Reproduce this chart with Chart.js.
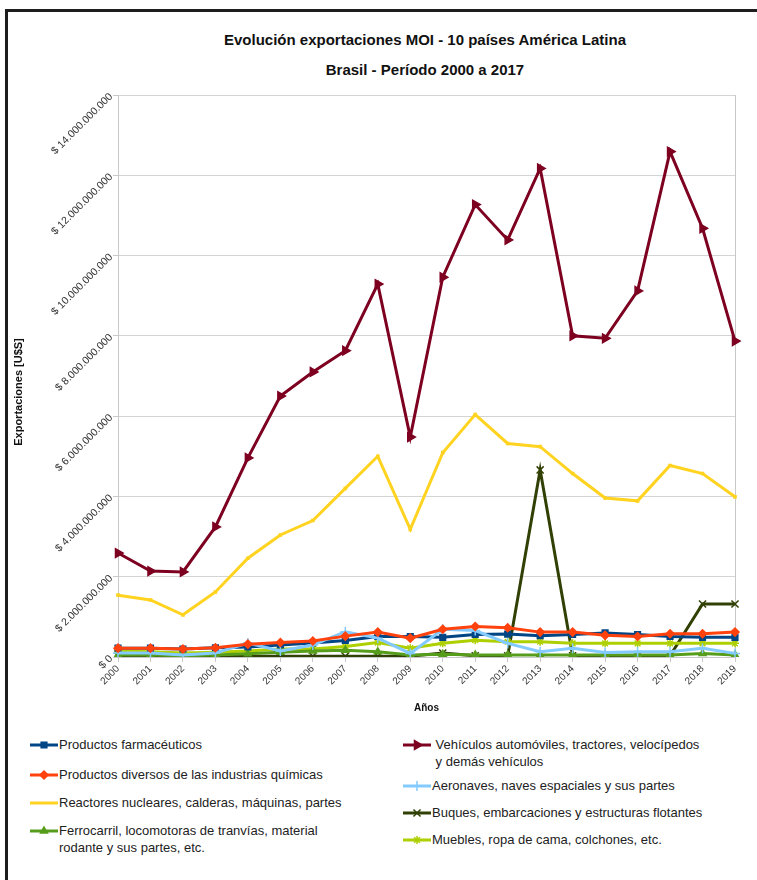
<!DOCTYPE html>
<html>
<head>
<meta charset="utf-8">
<script src="https://cdn.jsdelivr.net/npm/chart.js@4/dist/chart.umd.min.js"></script>
<style>
  body { margin: 0; background: #fff; font-family: "Liberation Sans", Arial, sans-serif; }
  #wrap { position: relative; width: 757px; height: 880px; overflow: hidden; }
  #frame { position: absolute; left: 5px; top: 9px; width: 800px; height: 900px;
           border-top: 3px solid #1e1e1e; border-left: 3px solid #1e1e1e; }
  .title { position: absolute; left: 125px; width: 600px; text-align: center;
           font-weight: bold; font-size: 15px; color: #111; }
  #ytitle { position: absolute; left: 18px; top: 392px; width: 200px; margin-left: -100px;
            text-align: center; font-weight: bold; font-size: 11px; color: #111; line-height: 12px;
            transform: translateY(-6px) rotate(-90deg); }
  #chart { position: absolute; left: 0; top: 0; }
  .leg { position: absolute; font-size: 13px; color: #222; line-height: 17px; }
  .leg canvas { position: absolute; left: 0; top: 2px; }
  .leg span { display: block; }
</style>
</head>
<body>
<div id="wrap">
  <div id="frame"></div>
  <div class="title" style="top:31px">Evolución exportaciones MOI - 10 países América Latina</div>
  <div class="title" style="top:61px">Brasil - Período 2000 a 2017</div>
  <canvas id="chart" width="757" height="720"></canvas>
  <div id="ytitle">Exportaciones [U$S]</div>
  <div id="legend"></div>
</div>
<script>
// Exports in millions of US$
const years = ['2000', '2001', '2002', '2003', '2004', '2005', '2006', '2007', '2008', '2009',
               '2010', '2011', '2012', '2013', '2014', '2015', '2016', '2017', '2018', '2019'];

const farmaceuticos = [220, 220, 200, 230, 250, 300, 350, 410, 510, 510, 490, 560, 570, 530, 560, 600, 560, 510, 490, 490];
const quimicos      = [220, 220, 200, 230, 320, 360, 400, 520, 620, 470, 690, 760, 730, 620, 620, 540, 510, 580, 580, 620];
const reactores     = [1540, 1420, 1050, 1620, 2460, 3040, 3400, 4200, 5000, 3180, 5090, 6040, 5320, 5240, 4570, 3960, 3890, 4770, 4570, 3990];
const ferrocarril   = [50, 50, 30, 50, 80, 120, 150, 170, 130, 50, 70, 50, 50, 50, 50, 50, 50, 50, 90, 50];
const vehiculos     = [2590, 2140, 2120, 3240, 4960, 6500, 7100, 7630, 9290, 5480, 9460, 11270, 10390, 12170, 8000, 7940, 9120, 12590, 10680, 7870];
const aeronaves     = [100, 100, 50, 100, 350, 150, 300, 630, 470, 90, 690, 660, 340, 130, 220, 110, 130, 130, 220, 90];
const buques        = [20, 20, 20, 20, 20, 20, 20, 20, 20, 20, 100, 30, 30, 4660, 30, 30, 30, 30, 1320, 1320];
const muebles       = [150, 130, 100, 120, 150, 200, 200, 260, 360, 220, 340, 420, 380, 380, 340, 340, 340, 340, 340, 340];

const yTicks = [0, 2000, 4000, 6000, 8000, 10000, 12000, 14000];

const series = [
  { label: ['Productos farmacéuticos'], data: farmaceuticos, color: '#004586', style: 'rect', r: 4, col: 0, row: 745 },
  { label: ['Productos diversos de las industrias químicas'], data: quimicos, color: '#ff420e', style: 'rectRot', r: 4, col: 0, row: 775 },
  { label: ['Reactores nucleares, calderas, máquinas, partes'], data: reactores, color: '#ffd320', style: 'rect', r: 1.5, col: 0, row: 803 },
  { label: ['Ferrocarril, locomotoras de tranvías, material', 'rodante y sus partes, etc.'], data: ferrocarril, color: '#579d1c', style: 'triangle', r: 4, col: 0, row: 831 },
  { label: [' Vehículos automóviles, tractores, velocípedos', ' y demás vehículos'], data: vehiculos, color: '#7e0021', style: 'triangle', rot: 90, r: 5, col: 1, row: 745 },
  { label: ['Aeronaves, naves espaciales y sus partes'], data: aeronaves, color: '#83caff', style: 'cross', r: 5, col: 1, row: 786 },
  { label: ['Buques, embarcaciones y estructuras flotantes'], data: buques, color: '#314004', style: 'crossRot', r: 5, col: 1, row: 813 },
  { label: ['Muebles, ropa de cama, colchones, etc.'], data: muebles, color: '#aecf00', style: 'star', r: 4, col: 1, row: 840 }
];

function money(v) {
  return '$ ' + String(Math.round(v)).replace(/\B(?=(\d{3})+(?!\d))/g, '.');
}

const datasets = series.map((s, i) => ({
  label: s.label.join(' '),
  data: s.data.map(v => v * 1e6),
  borderColor: s.color,
  backgroundColor: s.color,
  borderWidth: 3,
  pointStyle: s.style,
  pointRotation: s.rot || 0,
  pointRadius: s.r,
  pointBorderWidth: 1.5,
  pointHoverRadius: s.r,
  tension: 0,
  order: [3, 1, 5, 6, 4, 2, 8, 7][i]
}));

new Chart(document.getElementById('chart'), {
  type: 'line',
  data: { labels: years, datasets: datasets },
  options: {
    responsive: false,
    animation: false,
    events: [],
    layout: { padding: { left: 0, right: 22, top: 95, bottom: 2 } },
    plugins: { legend: { display: false }, tooltip: { enabled: false } },
    scales: {
      x: {
        offset: false,
        afterFit: scale => { scale.height = 61; },
        grid: {
          drawOnChartArea: true,
          color: ctx => (ctx.index === 0 || ctx.index === years.length - 1) ? '#c8c8c8' : 'rgba(0,0,0,0)',
          tickLength: 5,
          tickColor: '#c8c8c8'
        },
        border: { color: '#c8c8c8' },
        ticks: {
          minRotation: 45, maxRotation: 45, autoSkip: false,
          color: '#333', font: { family: 'Liberation Sans', size: 10 }, padding: 1
        },
        title: {
          display: true, text: 'Años', color: '#111',
          font: { family: 'Liberation Sans', size: 10, weight: 'bold' },
          padding: { top: 0, bottom: 4 }
        }
      },
      y: {
        min: 0, max: 14e9,
        afterFit: scale => { scale.width = 118; },
        afterBuildTicks: scale => { scale.ticks = yTicks.map(v => ({ value: v * 1e6 })); },
        grid: { color: '#d4d4d4', tickLength: 5, tickColor: '#c8c8c8' },
        border: { color: '#c8c8c8' },
        ticks: {
          minRotation: 45, maxRotation: 45,
          color: '#333', font: { family: 'Liberation Sans', size: 10.5 }, padding: 2,
          callback: v => money(v)
        }
      }
    }
  }
});

// Two-column legend below the chart
const legend = document.getElementById('legend');
series.forEach(s => {
  const item = document.createElement('div');
  item.className = 'leg';
  const left = s.col === 0 ? 30 : 403;
  item.style.left = left + 'px';
  item.style.top = (s.row - 9) + 'px';
  const c = document.createElement('canvas');
  c.width = 28; c.height = 14;
  item.appendChild(c);
  const txt = document.createElement('div');
  txt.style.marginLeft = '29px';
  s.label.forEach(line => {
    const sp = document.createElement('span');
    sp.textContent = line;
    sp.style.whiteSpace = 'pre';
    txt.appendChild(sp);
  });
  item.appendChild(txt);
  legend.appendChild(item);

  const ctx = c.getContext('2d');
  ctx.strokeStyle = s.color;
  ctx.fillStyle = s.color;
  ctx.lineWidth = 3;
  ctx.beginPath();
  ctx.moveTo(0, 7); ctx.lineTo(28, 7);
  ctx.stroke();
  if (s.r > 2 && Chart.helpers && Chart.helpers.drawPoint) {
    ctx.lineWidth = 1.5;
    Chart.helpers.drawPoint(ctx, { pointStyle: s.style, rotation: s.rot || 0, radius: s.r, borderWidth: 1.5 }, 14, 7);
  }
});
</script>
</body>
</html>
